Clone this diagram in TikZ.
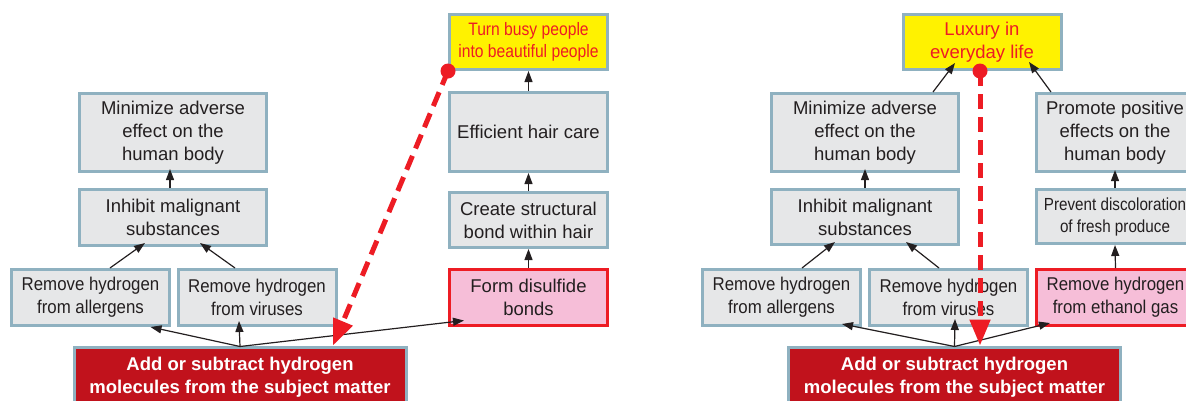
\documentclass[tikz,border=0pt]{standalone}
\usepackage{fontspec}
\setmainfont{Liberation Sans}
\newfontfamily\rowfamily[FakeStretch=0.91]{Liberation Sans}
\newfontfamily\narrowfamily[FakeStretch=0.87]{Liberation Sans}
\usetikzlibrary{arrows.meta}

\definecolor{edgeblue}{RGB}{143,177,192}
\definecolor{boxgray}{RGB}{230,231,232}
\definecolor{inkgray}{RGB}{35,31,32}
\definecolor{hotred}{RGB}{237,28,36}
\definecolor{rootred}{RGB}{193,18,28}
\definecolor{pinkfill}{RGB}{246,190,216}
\definecolor{goalyellow}{RGB}{255,242,0}

\newcommand{\fntmain}{\fontsize{18.5}{23}\selectfont}
\newcommand{\fntrow}{\rowfamily\fontsize{18.5}{23}\selectfont}
\newcommand{\fntnarrow}{\narrowfamily\fontsize{17.5}{22}\selectfont}
\newcommand{\fntgoal}{\narrowfamily\fontsize{18}{21.5}\selectfont}

\begin{document}
\begin{tikzpicture}[x=1pt,y=-1pt,
  box/.style={draw=edgeblue, fill=boxgray, line width=3pt, inner sep=0pt, align=center, text=inkgray, font=\fntmain},
  rowbox/.style={box, font=\fntrow, minimum width=158pt, minimum height=56pt},
  colbox/.style={box, minimum width=187pt},
  sidebox/.style={box, minimum width=158pt},
  target/.style={rowbox, draw=hotred, fill=pinkfill},
  goal/.style={box, fill=goalyellow, text=hotred, minimum width=158pt, minimum height=55pt},
  root/.style={box, fill=rootred, text=white, font=\fntmain\bfseries, minimum width=332pt, minimum height=76pt, text depth=20pt},
  arr/.style={-{Triangle[length=11pt,width=8pt]}, line width=1.2pt, draw=inkgray},
  hint/.style={draw=hotred, line width=5pt, dash pattern=on 15pt off 8pt, -{Triangle[length=26pt,width=20pt]}}]
\useasboundingbox (0,0) rectangle (1186,400);

\node[colbox, minimum height=78pt] (Minimize1) at (173,132.5) {Minimize adverse\\effect on the\\human body};
\node[colbox, minimum height=56pt] (Inhibit1) at (173,217.5) {Inhibit malignant\\substances};
\node[rowbox] (Allerg1) at (90.5,297.5) {Remove hydrogen\\from allergens};
\node[rowbox] (Virus1) at (257,297.5) {Remove hydrogen\\from viruses};
\node[root] (Root1) at (240,385) {Add or subtract hydrogen\\molecules from the subject matter};

\node[goal, font=\fntgoal] (Beauty) at (528.5,42) {Turn busy people\\into beautiful people};
\node[sidebox, minimum height=79pt] (Hair) at (528.5,132) {Efficient hair care};
\node[sidebox, minimum height=55pt] (Bond) at (528.5,220) {Create structural\\bond within hair};
\node[target, font=\fntmain] (Disulf) at (528.5,297) {Form disulfide\\bonds};

\draw[arr] ([yshift=-1pt]Root1.north) -- ([xshift=60pt]Allerg1.south);
\draw[arr] ([yshift=-1pt]Root1.north) -- ([xshift=-18pt,yshift=6pt]Virus1.south);
\draw[arr] ([yshift=-1pt]Root1.north) -- ([xshift=16pt,yshift=6pt]Disulf.south west);
\draw[arr] ([xshift=19.5pt]Allerg1.north) -- ([xshift=-28pt,yshift=4pt]Inhibit1.south);
\draw[arr] ([xshift=-22pt]Virus1.north) -- ([xshift=27pt,yshift=4pt]Inhibit1.south);
\draw[arr] ([xshift=-3pt]Inhibit1.north) -- ([xshift=-3pt,yshift=4pt]Minimize1.south);
\draw[arr] (Disulf.north) -- (Bond.south);
\draw[arr] (Bond.north) -- (Hair.south);
\draw[arr] (Hair.north) -- (Beauty.south);

\draw[hint] (Beauty.south west) -- ([xshift=93pt]Root1.north);
\fill[hotred] (Beauty.south west) circle (7.5pt);


\node[goal] (Luxury) at (982,42) {Luxury in\\everyday life};
\node[colbox, minimum height=78pt] (Minimize2) at (865,132.5) {Minimize adverse\\effect on the\\human body};
\node[sidebox, minimum height=78pt] (Promote) at (1115,132.5) {Promote positive\\effects on the\\human body};
\node[colbox, minimum height=55pt] (Inhibit2) at (865,217) {Inhibit malignant\\substances};
\node[sidebox, font=\fntnarrow, minimum height=54pt] (Prevent) at (1115,216.5) {Prevent discoloration\\of fresh produce};
\node[rowbox] (Allerg2) at (781.5,297.5) {Remove hydrogen\\from allergens};
\node[rowbox] (Virus2) at (948.5,297.5) {Remove hydrogen\\from viruses};
\node[target] (Ethanol) at (1115.5,297.5) {Remove hydrogen\\from ethanol gas};
\node[root] (Root2) at (954.5,385) {Add or subtract hydrogen\\molecules from the subject matter};

\draw[arr] ([yshift=-1pt]Root2.north) -- ([xshift=60.5pt,yshift=3pt]Allerg2.south);
\draw[arr] ([yshift=-1pt]Root2.north) -- ([xshift=6.5pt,yshift=8pt]Virus2.south);
\draw[arr] ([yshift=-1pt]Root2.north) -- ([xshift=15pt,yshift=4pt]Ethanol.south west);
\draw[arr] ([xshift=20.5pt]Allerg2.north) -- ([xshift=-30pt,yshift=4pt]Inhibit2.south);
\draw[arr] ([xshift=-9.5pt]Virus2.north) -- ([xshift=41pt,yshift=4pt]Inhibit2.south);
\draw[arr] (Inhibit2.north) -- ([yshift=4pt]Minimize2.south);
\draw[arr] (Ethanol.north) -- (Prevent.south);
\draw[arr] (Prevent.north) -- ([yshift=3pt]Promote.south);
\draw[arr] ([xshift=68pt]Minimize2.north) -- ([xshift=-27pt,yshift=8pt]Luxury.south);
\draw[arr] ([xshift=-64pt]Promote.north) -- ([xshift=47pt,yshift=9pt]Luxury.south);

\draw[hint] ([xshift=-2pt]Luxury.south) -- ([xshift=25.5pt]Root2.north);
\fill[hotred] ([xshift=-2pt]Luxury.south) circle (7.5pt);

\end{tikzpicture}
\end{document}
